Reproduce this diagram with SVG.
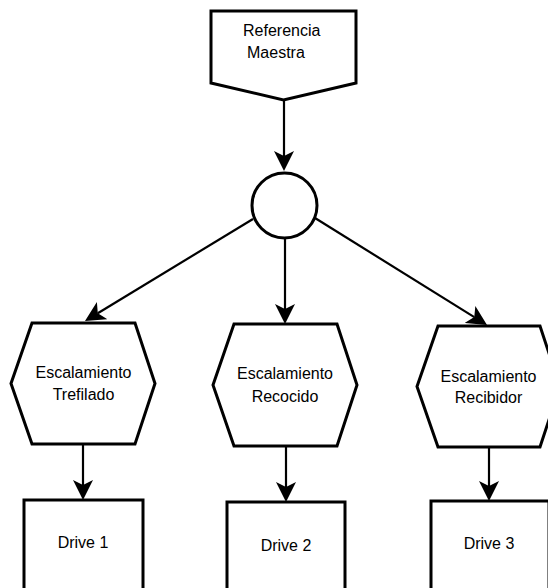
<svg xmlns="http://www.w3.org/2000/svg" width="548" height="588" viewBox="0 0 548 588">
<style>
.shape{fill:#fff;stroke:#000;stroke-width:3;stroke-linejoin:miter}
.conn{fill:none;stroke:#000;stroke-width:2.2}
.lbl{font-family:"Liberation Sans",Arial,sans-serif;font-size:16px;fill:#000}
.c{text-anchor:middle}
</style>
<defs>
<marker id="arr" viewBox="0 0 20 20" refX="5" refY="10" markerWidth="20" markerHeight="20" markerUnits="userSpaceOnUse" orient="auto">
<path d="M0,0 L20,10 L0,20 L5,10 z" fill="#000"/>
</marker>
</defs>
<rect width="548" height="588" fill="#fff"/>
<g id="connectors">
<line class="conn" x1="284" y1="100" x2="284" y2="156" marker-end="url(#arr)"/>
<line class="conn" x1="253" y1="219" x2="97.8" y2="313.2" marker-end="url(#arr)"/>
<line class="conn" x1="285" y1="238" x2="285" y2="309" marker-end="url(#arr)"/>
<line class="conn" x1="315" y1="218" x2="474.3" y2="317.1" marker-end="url(#arr)"/>
<line class="conn" x1="83" y1="444" x2="83" y2="485" marker-end="url(#arr)"/>
<line class="conn" x1="286" y1="446" x2="286" y2="487" marker-end="url(#arr)"/>
<line class="conn" x1="489" y1="447" x2="489" y2="486" marker-end="url(#arr)"/>
</g>
<g id="referencia">
<polygon class="shape" points="211,11 356,11 356,83 283.5,100 211,83"/>
<text class="lbl" x="243" y="36">Referencia</text>
<text class="lbl" x="247" y="58">Maestra</text>
</g>
<g id="junction">
<circle class="shape" cx="284.5" cy="205.5" r="32.5"/>
</g>
<g id="trefilado">
<polygon class="shape" points="32,323 135,323 155,383.5 135,444 32,444 11,383.5"/>
<text class="lbl c" x="83.5" y="378">Escalamiento</text>
<text class="lbl c" x="83.5" y="400">Trefilado</text>
</g>
<g id="recocido">
<polygon class="shape" points="234,324 337,324 357,385 337,446 234,446 213,385"/>
<text class="lbl c" x="285" y="379">Escalamiento</text>
<text class="lbl c" x="285" y="401.5">Recocido</text>
</g>
<g id="recibidor">
<polygon class="shape" points="438,326 540,326 560,386.5 540,447 438,447 417,386.5"/>
<text class="lbl c" x="488.5" y="381.5">Escalamiento</text>
<text class="lbl c" x="488.5" y="403">Recibidor</text>
</g>
<g id="drive1">
<rect class="shape" x="24" y="500" width="119" height="100"/>
<text class="lbl c" x="83" y="548">Drive 1</text>
</g>
<g id="drive2">
<rect class="shape" x="227" y="502" width="118" height="100"/>
<text class="lbl c" x="286" y="551">Drive 2</text>
</g>
<g id="drive3">
<rect class="shape" x="431" y="501" width="118" height="100"/>
<text class="lbl c" x="489" y="549">Drive 3</text>
</g>
</svg>
